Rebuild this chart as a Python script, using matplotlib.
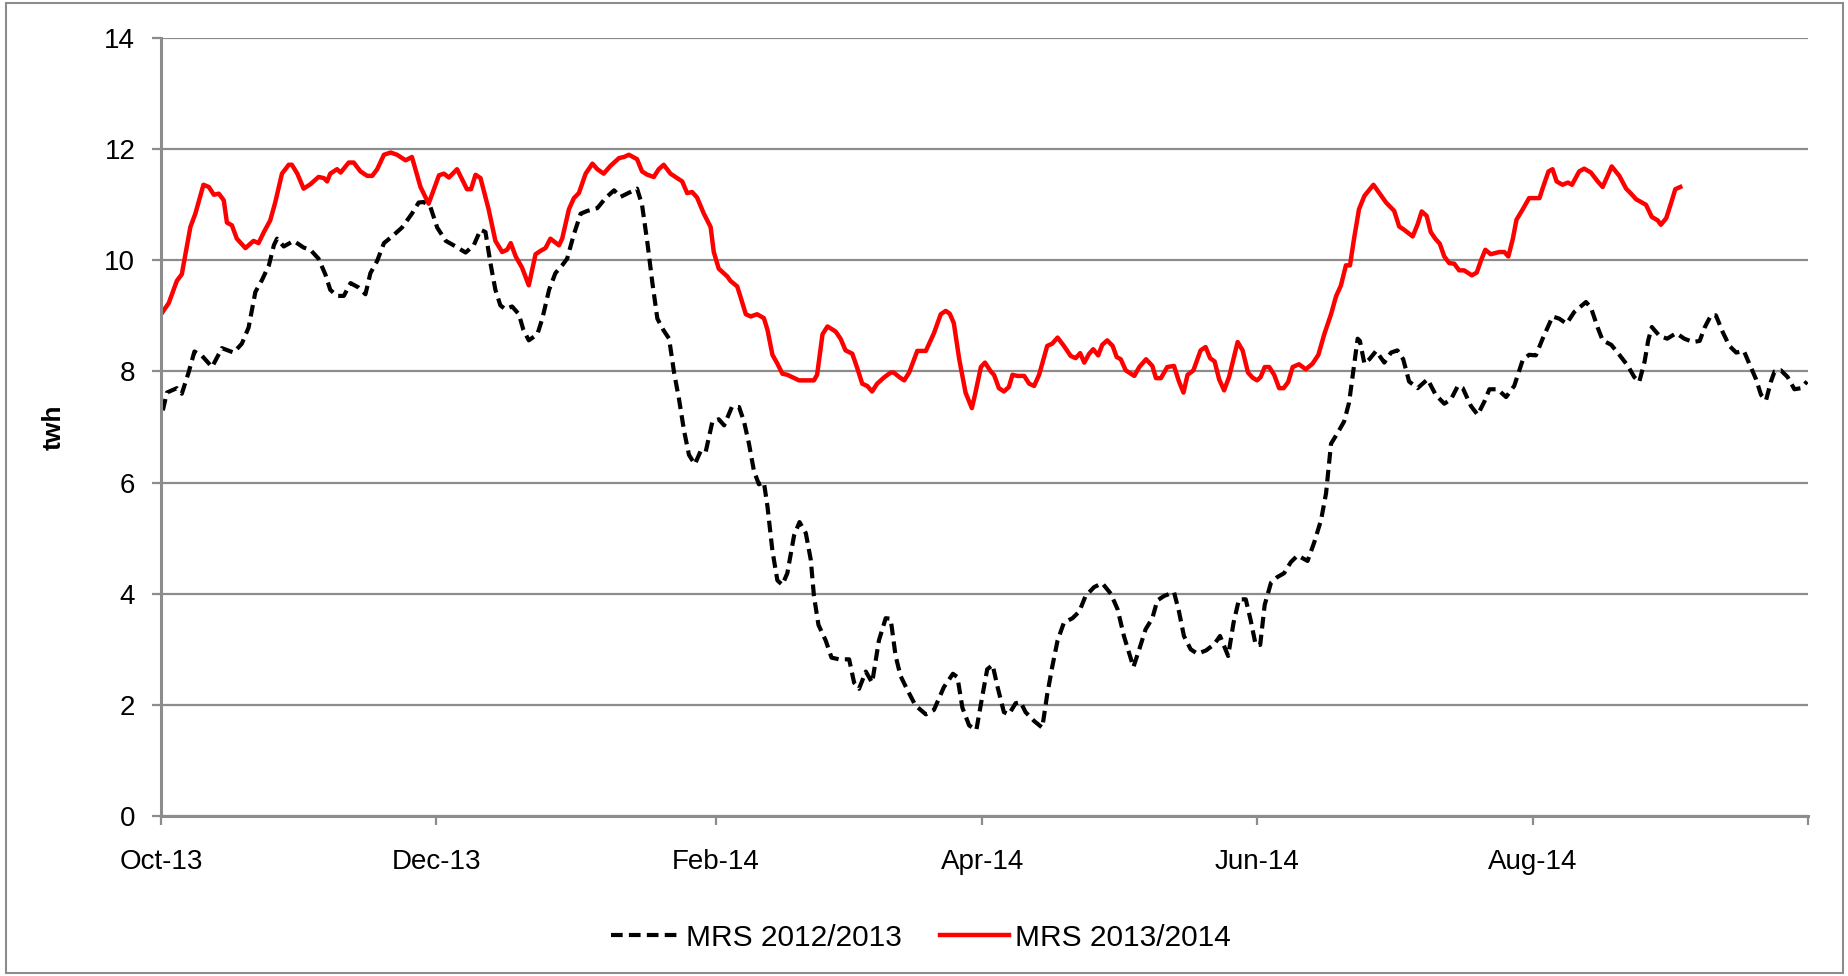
"""
Reservoir level chart: MRS 2012/2013 vs MRS 2013/2014 (twh).
"""

import matplotlib
matplotlib.use("Agg")
import matplotlib.pyplot as plt
import numpy as np
import pandas as pd
from matplotlib.lines import Line2D
from matplotlib.patches import Rectangle

# ── data (days since 1 Oct 2013, twh) ─────────────────────────────────────── #

START = pd.Timestamp("2013-10-01")

mrs_1314_day = [
    0, 1.7, 3.5, 4.6, 6.5, 7.6, 9.4, 10.6, 11.7, 12.8, 13.9, 14.6, 15.7, 16.8,
    18.7, 20.5, 21.6, 22.8, 24.2, 25.3, 26.8, 28.3, 29.0, 30.2, 31.6, 33.1,
    34.9, 36.1, 36.8, 37.5, 39.0, 39.8, 41.6, 42.7, 44.2, 45.7, 46.8, 47.9,
    49.4, 50.9, 52.3, 54.2, 55.6, 57.5, 59.3, 61.6, 62.7, 63.8, 65.6, 67.8,
    68.7, 69.7, 70.8, 72.6, 74.1, 75.6, 76.7, 77.5, 78.6, 80.0, 81.5, 83.0,
    84.1, 85.2, 86.3, 88.2, 88.9, 90.4, 91.5, 92.6, 94.1, 95.6, 96.7, 98.1,
    99.6, 101.5, 102.6, 103.7, 105.5, 106.6, 107.8, 109.2, 110.3, 111.4,
    112.9, 114.4, 115.5, 116.6, 117.7, 118.8, 120.3, 121.8, 122.5, 123.6,
    125.5, 126.2, 127.7, 128.4, 129.6, 130.7, 132.1, 133.6, 134.4, 135.5,
    136.6, 137.7, 138.8, 141.4, 144.7, 145.4, 146.6, 147.7, 149.5, 150.6,
    151.7, 153.2, 154.3, 155.4, 156.5, 157.6, 158.7, 160.2, 161.7, 162.4,
    163.6, 164.7, 165.8, 167.6, 169.5, 171.3, 172.8, 173.9, 174.8, 175.7,
    176.9, 178.3, 179.7, 180.5, 181.7, 182.6, 183.9, 184.6, 185.7, 186.8,
    187.9, 188.7, 189.8, 191.3, 192.4, 193.5, 194.6, 196.4, 197.5, 198.7,
    200.1, 201.6, 202.7, 203.7, 204.6, 205.7, 206.6, 207.7, 208.6, 209.7,
    210.9, 211.8, 212.7, 213.8, 215.7, 216.8, 218.3, 219.7, 220.5, 221.6,
    223.0, 224.5, 225.6, 226.6, 227.5, 228.8, 230.4, 231.5, 232.5, 233.5,
    234.5, 235.6, 236.7, 238.6, 239.7, 240.9, 241.9, 242.9, 243.7, 244.6,
    245.6, 246.7, 247.8, 248.8, 249.8, 250.8, 252.2, 253.7, 255.2, 256.5,
    257.8, 259.3, 260.4, 261.5, 262.6, 263.5, 264.4, 265.5, 266.7, 268.7,
    270.0, 271.5, 273.3, 274.4, 275.5, 277.4, 278.5, 279.4, 280.5, 281.4,
    282.4, 283.4, 284.4, 285.5, 286.6, 287.7, 288.8, 290.5, 291.6, 292.5,
    293.5, 294.7, 296.6, 297.7, 298.6, 299.6, 300.4, 301.8, 303.2, 305.5,
    306.3, 307.5, 308.4, 309.3, 310.6, 311.8, 312.7, 314.3, 315.4, 316.9,
    318.4, 319.5, 320.6, 321.5, 323.2, 324.7, 325.8, 326.9, 329.1, 330.4,
    331.7, 332.4, 333.6, 334.7, 335.6, 336.7,
]
mrs_1314_twh = [
    9.03, 9.23, 9.63, 9.75, 10.6, 10.84, 11.36, 11.32, 11.18, 11.2, 11.08,
    10.68, 10.63, 10.39, 10.22, 10.35, 10.31, 10.51, 10.72, 11.04, 11.56,
    11.72, 11.72, 11.56, 11.29, 11.37, 11.5, 11.48, 11.42, 11.56, 11.64,
    11.58, 11.76, 11.76, 11.6, 11.52, 11.52, 11.64, 11.9, 11.94, 11.9, 11.8,
    11.86, 11.32, 11.02, 11.53, 11.56, 11.49, 11.64, 11.28, 11.28, 11.54,
    11.48, 10.92, 10.35, 10.15, 10.19, 10.31, 10.07, 9.87, 9.55, 10.11,
    10.17, 10.22, 10.39, 10.27, 10.39, 10.92, 11.12, 11.21, 11.56, 11.74,
    11.64, 11.56, 11.7, 11.84, 11.86, 11.9, 11.82, 11.6, 11.54, 11.5, 11.64,
    11.72, 11.56, 11.48, 11.42, 11.21, 11.23, 11.13, 10.84, 10.6, 10.15,
    9.85, 9.71, 9.63, 9.53, 9.35, 9.03, 8.99, 9.03, 8.96, 8.75, 8.3, 8.14,
    7.96, 7.94, 7.84, 7.84, 7.94, 8.67, 8.81, 8.72, 8.59, 8.38, 8.32, 8.06,
    7.78, 7.74, 7.64, 7.78, 7.89, 7.98, 7.98, 7.9, 7.84, 7.98, 8.37, 8.37,
    8.69, 9.03, 9.09, 9.04, 8.87, 8.22, 7.62, 7.34, 7.62, 8.08, 8.16, 8.0,
    7.94, 7.7, 7.64, 7.72, 7.94, 7.92, 7.92, 7.78, 7.74, 7.94, 8.46, 8.5,
    8.61, 8.46, 8.28, 8.24, 8.33, 8.16, 8.32, 8.4, 8.29, 8.48, 8.56, 8.46,
    8.26, 8.22, 8.02, 7.92, 8.08, 8.22, 8.1, 7.88, 7.88, 8.08, 8.1, 7.82,
    7.62, 7.94, 8.02, 8.38, 8.44, 8.24, 8.18, 7.86, 7.66, 7.9, 8.53, 8.38,
    7.98, 7.89, 7.84, 7.9, 8.08, 8.08, 7.94, 7.7, 7.7, 7.81, 8.08, 8.13,
    8.04, 8.14, 8.3, 8.67, 9.03, 9.35, 9.55, 9.91, 9.91, 10.39, 10.92,
    11.16, 11.36, 11.21, 11.04, 10.89, 10.61, 10.55, 10.43, 10.65, 10.88,
    10.8, 10.51, 10.39, 10.3, 10.07, 9.95, 9.94, 9.82, 9.82, 9.73, 9.78,
    9.99, 10.19, 10.11, 10.15, 10.15, 10.07, 10.39, 10.73, 10.92, 11.12,
    11.12, 11.32, 11.6, 11.64, 11.42, 11.36, 11.4, 11.36, 11.6, 11.65,
    11.58, 11.42, 11.32, 11.52, 11.69, 11.52, 11.29, 11.2, 11.1, 11.0,
    10.78, 10.72, 10.64, 10.76, 11.04, 11.28, 11.32,
]

mrs_1213_day = [
    0.4, 1.3, 3.5, 4.6, 6.1, 7.4, 9.1, 11.3, 13.5, 16.1, 17.9, 19.4, 20.9,
    22.4, 23.9, 25.0, 25.7, 27.2, 29.4, 31.6, 33.1, 34.9, 36.4, 37.5, 39.0,
    40.5, 42.0, 43.8, 45.3, 46.4, 47.9, 49.4, 51.2, 53.4, 55.6, 57.1, 58.2,
    59.7, 61.2, 63.1, 65.3, 67.5, 69.3, 70.8, 71.9, 73.0, 74.1, 75.2, 76.3,
    77.8, 79.3, 80.3, 81.5, 83.4, 84.5, 86.0, 87.4, 88.9, 90.0, 91.5, 93.0,
    94.5, 96.7, 98.5, 100.4, 101.8, 103.3, 105.5, 106.6, 107.8, 108.9,
    110.0, 111.3, 112.6, 113.7, 114.8, 115.9, 117.0, 118.3, 119.6, 120.7,
    122.2, 123.6, 124.8, 126.5, 128.1, 129.2, 130.3, 131.4, 132.5, 133.6,
    134.4, 135.5, 136.6, 137.7, 138.8, 140.3, 141.5, 142.9, 144.0, 144.7,
    145.7, 147.3, 148.6, 150.3, 152.5, 153.6, 154.7, 156.2, 157.6, 159.1,
    160.6, 161.7, 162.8, 163.9, 165.4, 167.2, 169.5, 171.3, 173.5, 175.5,
    176.5, 177.6, 179.1, 180.7, 182.0, 183.1, 184.3, 185.4, 186.8, 187.9,
    189.4, 190.5, 191.6, 193.5, 195.3, 196.4, 197.5, 198.7, 200.1, 202.0,
    203.5, 204.9, 206.8, 208.6, 210.5, 212.0, 213.4, 214.6, 215.5, 216.8,
    218.2, 219.7, 220.8, 222.3, 224.5, 225.6, 226.7, 228.2, 229.7, 231.6,
    233.4, 234.7, 236.5, 237.7, 238.9, 240.4, 241.5, 242.6, 243.6, 244.6,
    246.0, 247.4, 248.9, 250.4, 251.9, 254.1, 255.6, 257.1, 258.2, 259.3,
    260.8, 262.2, 263.3, 264.2, 265.2, 265.7, 266.7, 267.8, 269.3, 271.1,
    272.6, 274.0, 275.3, 276.6, 278.5, 280.7, 282.5, 284.4, 285.9, 287.4,
    288.5, 290.3, 291.8, 293.3, 294.4, 296.2, 298.1, 299.9, 301.8, 303.2,
    304.7, 306.2, 307.3, 308.4, 309.9, 311.5, 313.2, 315.8, 316.9, 318.4,
    319.5, 321.4, 323.2, 325.1, 326.5, 327.6, 328.8, 329.6, 330.4, 332.1,
    333.8, 335.8, 337.6, 339.5, 341.0, 342.1, 343.5, 344.6, 346.1, 347.6,
    349.1, 350.8, 352.0, 353.5, 354.6, 355.7, 356.8, 357.6, 359.0, 360.5,
    362.0, 363.5, 364.8,
]
mrs_1213_twh = [
    7.3, 7.62, 7.7, 7.6, 7.98, 8.36, 8.28, 8.08, 8.42, 8.34, 8.5, 8.79, 9.43,
    9.65, 9.91, 10.27, 10.39, 10.25, 10.35, 10.23, 10.19, 10.03, 9.75, 9.47,
    9.36, 9.36, 9.59, 9.51, 9.39, 9.77, 9.99, 10.31, 10.43, 10.59, 10.84,
    11.04, 11.05, 10.96, 10.59, 10.35, 10.25, 10.14, 10.27, 10.55, 10.51,
    9.95, 9.47, 9.19, 9.12, 9.17, 9.03, 8.75, 8.56, 8.67, 8.95, 9.47, 9.77,
    9.91, 10.03, 10.47, 10.84, 10.89, 10.94, 11.12, 11.26, 11.14, 11.2,
    11.29, 11.0, 10.31, 9.59, 8.95, 8.75, 8.59, 7.98, 7.5, 6.94, 6.5, 6.33,
    6.57, 6.55, 7.1, 7.14, 7.03, 7.36, 7.36, 7.1, 6.7, 6.21, 5.97, 6.01,
    5.57, 4.77, 4.24, 4.16, 4.37, 5.05, 5.29, 5.09, 4.61, 3.96, 3.44, 3.16,
    2.85, 2.82, 2.82, 2.4, 2.29, 2.6, 2.4, 3.16, 3.56, 3.55, 2.88, 2.52,
    2.27, 1.99, 1.83, 1.91, 2.32, 2.56, 2.5, 1.95, 1.63, 1.55, 2.15, 2.64,
    2.72, 2.32, 1.87, 1.83, 2.03, 2.05, 1.87, 1.71, 1.59, 2.19, 2.68, 3.16,
    3.48, 3.56, 3.68, 3.96, 4.12, 4.19, 4.0, 3.72, 3.24, 2.92, 2.68, 3.0,
    3.36, 3.56, 3.88, 3.96, 4.03, 3.68, 3.24, 3.0, 2.92, 2.98, 3.09, 3.24,
    2.88, 3.48, 3.9, 3.9, 3.52, 3.08, 3.08, 3.8, 4.2, 4.3, 4.37, 4.57, 4.69,
    4.59, 4.93, 5.33, 5.81, 6.7, 6.9, 7.1, 7.44, 7.98, 8.59, 8.55, 8.14,
    8.22, 8.37, 8.16, 8.34, 8.38, 8.22, 7.82, 7.7, 7.86, 7.58, 7.42, 7.5,
    7.74, 7.7, 7.38, 7.22, 7.46, 7.68, 7.68, 7.54, 7.74, 8.21, 8.3, 8.29,
    8.59, 8.79, 8.99, 8.95, 8.86, 9.07, 9.25, 9.15, 8.79, 8.56, 8.48, 8.3,
    8.1, 7.9, 7.81, 8.18, 8.56, 8.8, 8.64, 8.59, 8.69, 8.59, 8.53, 8.55,
    8.79, 9.01, 9.01, 8.71, 8.46, 8.34, 8.37, 8.14, 7.86, 7.58, 7.48, 7.82,
    8.0, 8.02, 7.9, 7.68, 7.7, 7.82,
]

tick_dates = ["2013-10-01", "2013-12-01", "2014-02-01", "2014-04-01",
              "2014-06-01", "2014-08-01", "2014-10-01"]
tick_labels = ["Oct-13", "Dec-13", "Feb-14", "Apr-14", "Jun-14", "Aug-14", ""]
y_ticks = [0, 2, 4, 6, 8, 10, 12, 14]


def to_dates(days):
    return START + pd.to_timedelta(np.asarray(days), unit="D")


# ── figure ──────────────────────────────────────────────────────────────── #

plt.rcParams["font.family"] = ["Liberation Sans", "DejaVu Sans"]
GRID = "#8c8c8c"
DASH = (2.8, 1.5)

fig = plt.figure(figsize=(18.49, 9.76), dpi=100)
ax = fig.add_axes([0.0871, 0.1639, 0.8907, 0.7971])

ax.plot(to_dates(mrs_1213_day), mrs_1213_twh, color="black", lw=3.0,
        dashes=DASH, label="MRS 2012/2013")
ax.plot(to_dates(mrs_1314_day), mrs_1314_twh, color="#ff0000", lw=3.2,
        label="MRS 2013/2014")

ax.set_xlim(pd.Timestamp(tick_dates[0]), pd.Timestamp(tick_dates[-1]))
ax.set_ylim(0, 14)
ax.set_yticks(y_ticks)
ax.set_xticks(pd.to_datetime(tick_dates))
ax.set_xticklabels(tick_labels)

ax.grid(axis="y", color=GRID, lw=1.6)
ax.set_axisbelow(True)
for side in ("top", "right"):
    ax.spines[side].set_visible(False)
for side in ("left", "bottom"):
    ax.spines[side].set_color(GRID)
    ax.spines[side].set_linewidth(2.2)
ax.tick_params(axis="both", colors=GRID, width=1.6, length=6.5,
               labelcolor="black", labelsize=20)
ax.tick_params(axis="x", pad=17)
ax.tick_params(axis="y", pad=12)

ax.set_ylabel("twh", fontsize=19, fontweight="bold", labelpad=28)

handles = [
    Line2D([0], [0], color="black", lw=3.0, dashes=DASH),
    Line2D([0], [0], color="#ff0000", lw=3.2),
]
fig.legend(handles, ["MRS 2012/2013", "MRS 2013/2014"], loc="center",
           bbox_to_anchor=(0.498, 0.039), ncol=2, frameon=False,
           fontsize=21.5, handlelength=2.3, handletextpad=0.2,
           columnspacing=1.3)

# outer frame around the whole chart
fig.patches.append(Rectangle((0.003, 0.003), 0.994, 0.994,
                             transform=fig.transFigure, fill=False,
                             ec=GRID, lw=1.5))

fig.savefig("out.png", dpi=100)
